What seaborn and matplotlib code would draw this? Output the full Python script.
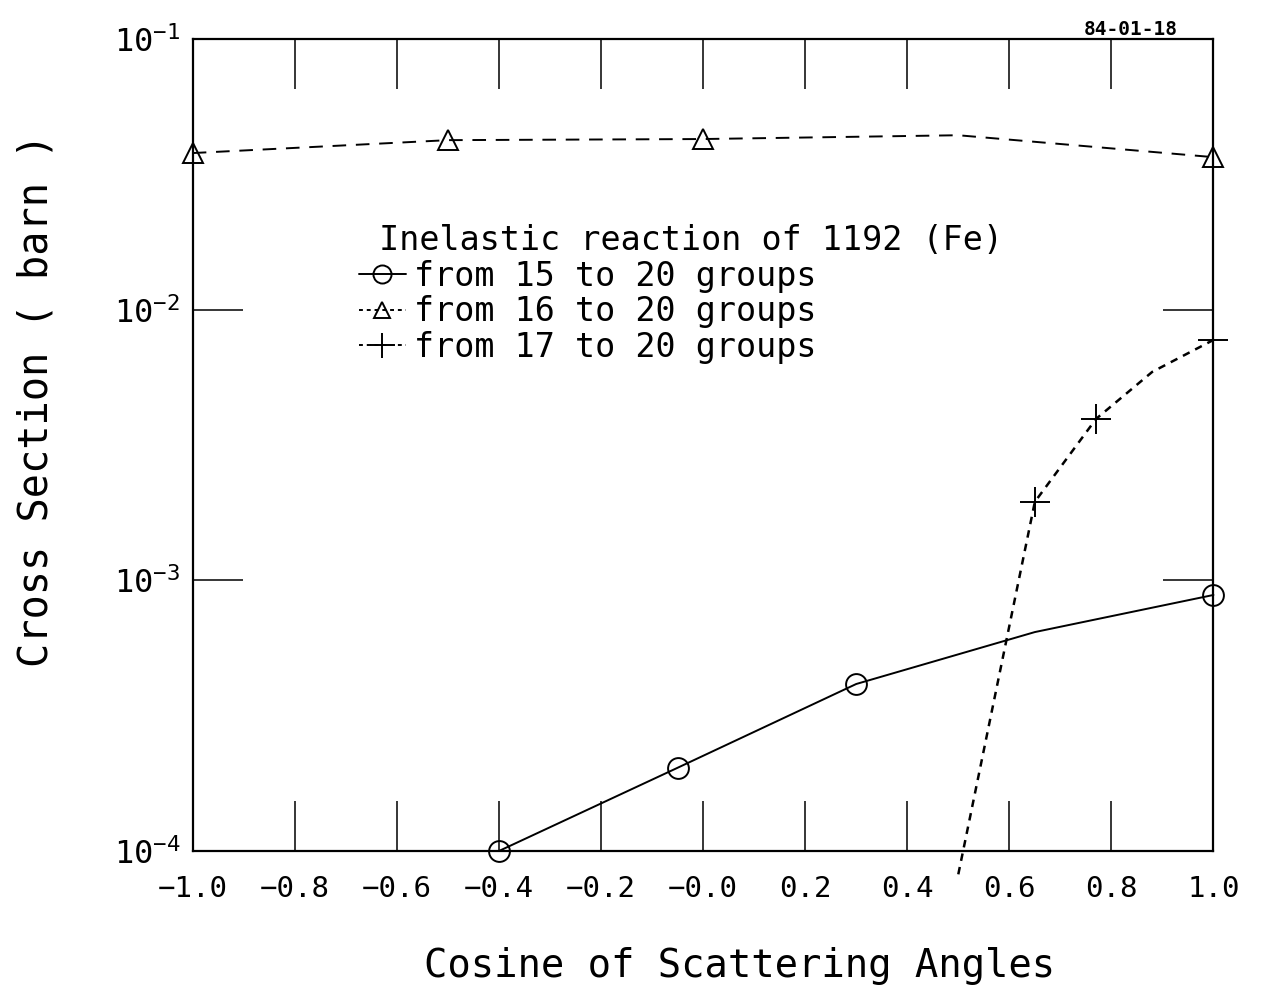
import matplotlib
matplotlib.use("Agg")
import matplotlib.pyplot as plt
from matplotlib.lines import Line2D
import seaborn as sns

# group 15 -> 20 (open circles, solid line)
mu_15 = [-0.40, -0.05, 0.30, 0.65, 1.00]
xs_15 = [1.00e-4, 2.03e-4, 4.14e-4, 6.44e-4, 8.83e-4]
mark_15 = [0, 1, 2, 4]

# group 16 -> 20 (open triangles, dashed)
mu_16 = [-1.0, -0.5, 0.0, 0.5, 1.0]
xs_16 = [3.79e-2, 4.23e-2, 4.27e-2, 4.41e-2, 3.66e-2]
mark_16 = [0, 1, 2, 4]

# group 17 -> 20 (plus, short dashes)
mu_17 = [0.50, 0.65, 0.77, 0.88, 1.00]
xs_17 = [8.2e-5, 1.95e-3, 3.95e-3, 5.89e-3, 7.73e-3]
mark_17 = [1, 2, 4]

x_ticks = [-1.0, -0.8, -0.6, -0.4, -0.2, 0.0, 0.2, 0.4, 0.6, 0.8, 1.0]
x_labels = ["−1.0", "−0.8", "−0.6", "−0.4", "−0.2", "−0.0", "0.2", "0.4", "0.6", "0.8", "1.0"]
y_ticks = [1e-4, 1e-3, 1e-2, 1e-1]
y_labels = [r"$10^{-4}$", r"$10^{-3}$", r"$10^{-2}$", r"$10^{-1}$"]

sns.set_style("ticks")
plt.rcParams["font.family"] = ["DejaVu Sans Mono"]
plt.rcParams["mathtext.default"] = "regular"
plt.rcParams["text.color"] = "black"
plt.rcParams["axes.labelcolor"] = "black"
plt.rcParams["xtick.color"] = "black"
plt.rcParams["ytick.color"] = "black"

fig = plt.figure(figsize=(12.68, 9.9), dpi=100)
ax = fig.add_axes([0.152, 0.1404, 0.805, 0.8202])

sns.lineplot(x=mu_15, y=xs_15, ax=ax, color="black", lw=1.4, marker="o",
             markersize=15, markerfacecolor="none", markeredgecolor="black",
             markeredgewidth=1.4, markevery=mark_15, clip_on=False)
sns.lineplot(x=mu_16, y=xs_16, ax=ax, color="black", lw=1.4, linestyle=(0, (7, 5)),
             marker="^", markersize=14, markerfacecolor="none", markeredgecolor="black",
             markeredgewidth=1.4, markevery=mark_16, clip_on=False)
sns.lineplot(x=mu_17, y=xs_17, ax=ax, color="black", lw=1.8, linestyle=(0, (3, 2.5)),
             marker="+", markersize=22, markeredgecolor="black",
             markeredgewidth=1.4, markevery=mark_17, clip_on=False)

ax.set_yscale("log")
ax.set_xlim(-1, 1)
ax.set_ylim(1e-4, 1e-1)
ax.minorticks_off()

ax.set_xticks(x_ticks)
ax.set_xticklabels(x_labels, fontsize=21)
ax.set_yticks(y_ticks)
ax.set_yticklabels(y_labels, fontsize=23)
ax.tick_params(axis="both", direction="in", length=36, width=1.1, color="black",
               top=True, right=True)
ax.tick_params(axis="x", pad=17)
ax.tick_params(axis="y", pad=9)
for s in ax.spines.values():
    s.set_linewidth(1.6)
    s.set_color("black")

ax.set_xlabel("Cosine of Scattering Angles", fontsize=28)
ax.set_ylabel("Cross Section ( barn )", fontsize=29)
ax.xaxis.set_label_coords(0.536, -0.118)
ax.yaxis.set_label_coords(-0.133, 0.555)

handles = [
    Line2D([], [], color="black", lw=1.4, marker="o", markersize=13,
           markerfacecolor="none", markeredgewidth=1.4),
    Line2D([], [], color="black", lw=1.4, linestyle=(0, (2, 2)), marker="^",
           markersize=12, markerfacecolor="none", markeredgewidth=1.4),
    Line2D([], [], color="black", lw=1.4, linestyle=(0, (2, 2)), marker="+",
           markersize=18, markeredgewidth=1.4),
]
labels = ["from 15 to 20 groups", "from 16 to 20 groups", "from 17 to 20 groups"]
leg = ax.legend(handles, labels, title=" Inelastic reaction of 1192 (Fe)",
                loc="upper left", bbox_to_anchor=(0.163, 0.772), frameon=False,
                fontsize=24, title_fontsize=24, alignment="left", numpoints=1,
                handlelength=1.4, handletextpad=0.25, labelspacing=0.08,
                borderpad=0, borderaxespad=0)

fig.text(0.855, 0.965, "84-01-18", fontsize=14, fontweight="bold", ha="left")

plt.savefig("out.png", dpi=100)
